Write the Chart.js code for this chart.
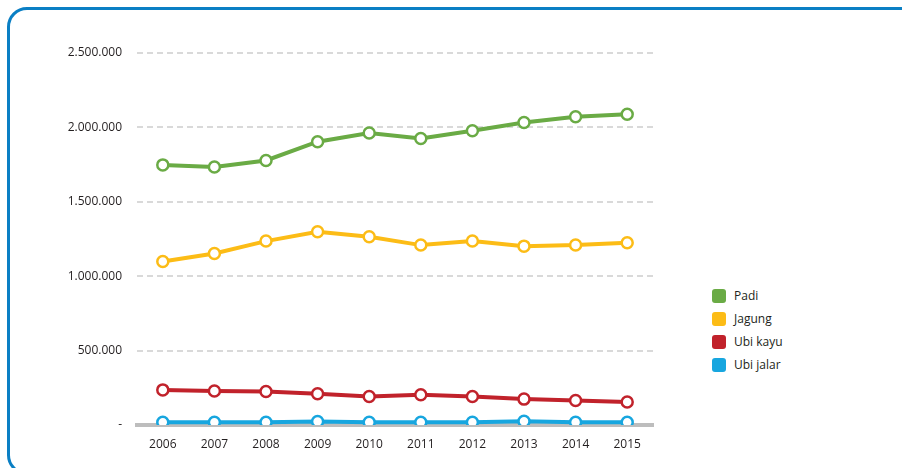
<!DOCTYPE html>
<html>
<head>
<meta charset="utf-8">
<script src="https://cdn.jsdelivr.net/npm/chart.js@4"></script>
<style>
  html, body { margin: 0; padding: 0; background: #fff; overflow: hidden; }
  body { width: 902px; height: 468px; position: relative; font-family: "Open Sans", sans-serif; }
  .frame {
    position: absolute; left: 7px; top: 7px; width: 940px; height: 462px;
    border: 3px solid #0a7fc4; border-radius: 20px; box-sizing: content-box;
  }
  .wrap { position: absolute; left: 0; top: 0; width: 680px; height: 468px; }
  .legend { position: absolute; left: 712px; top: 284px; font-size: 12px; color: #231f20; }
  .legend .row { display: flex; align-items: center; height: 23px; }
  .legend i { width: 14px; height: 14px; border-radius: 3px; margin-right: 8px; display: inline-block; }
</style>
</head>
<body>
<div class="frame"></div>
<div class="wrap"><canvas id="c"></canvas></div>
<div class="legend" id="legend"></div>
<script>
(() => {
  "use strict";

  const YEARS = ["2006", "2007", "2008", "2009", "2010", "2011", "2012", "2013", "2014", "2015"];
  const PADI = [1748000, 1734000, 1778000, 1904000, 1962000, 1925000, 1977000, 2033000, 2071000, 2088000];
  const JAGUNG = [1099000, 1153000, 1236000, 1299000, 1265000, 1209000, 1236000, 1202000, 1209000, 1225000];
  const UBI_KAYU = [236000, 228000, 225000, 210000, 191000, 203000, 191000, 174000, 164000, 154000];
  const UBI_JALAR = [19000, 19000, 19000, 23000, 18000, 19000, 19000, 25000, 19000, 19000];
  const Y_TICKS = [0, 500000, 1000000, 1500000, 2000000, 2500000];

  const SERIES = [
    { label: "Padi", data: PADI, color: "#6aab45" },
    { label: "Jagung", data: JAGUNG, color: "#fcbc16" },
    { label: "Ubi kayu", data: UBI_KAYU, color: "#c1222b" },
    { label: "Ubi jalar", data: UBI_JALAR, color: "#17a6df" },
  ];

  const fmt = (v) => v === 0 ? "-" : String(v).replace(/\B(?=(\d{3})+(?!\d))/g, ".");
  const font = { family: "'Open Sans', sans-serif", size: 12 };

  new Chart(document.getElementById("c"), {
    type: "line",
    data: {
      labels: YEARS,
      datasets: SERIES.map((s) => ({
        label: s.label, data: s.data,
        borderColor: s.color, borderWidth: 4,
        pointRadius: 5.5, pointHoverRadius: 5.5,
        pointBorderWidth: 2.5, pointBackgroundColor: "#fff", pointBorderColor: s.color,
        tension: 0, fill: false,
      })),
    },
    options: {
      responsive: true, maintainAspectRatio: false, animation: false,
      layout: { padding: { left: 0, top: 53, right: 27, bottom: 13 } },
      plugins: { legend: { display: false }, tooltip: { enabled: false } },
      scales: {
        x: {
          offset: true,
          grid: { display: false, drawTicks: false },
          border: { display: true, color: "#bdbdbd", width: 4 },
          ticks: { color: "#231f20", font, padding: 12, maxRotation: 0 },
          afterFit: (s) => { s.height = 30; },
        },
        y: {
          min: 0, max: 2500000,
          afterBuildTicks: (s) => { s.ticks = Y_TICKS.map((v) => ({ value: v })); },
          grid: { color: "#d9d9d9", lineWidth: 2, drawTicks: false },
          border: { display: false, dash: [6, 4] },
          ticks: { color: "#231f20", font, padding: 15, callback: (v) => fmt(v) },
          afterFit: (s) => { s.width = 137; },
        },
      },
    },
  });

  document.getElementById("legend").innerHTML = SERIES.map((s) =>
    `<div class="row"><i style="background:${s.color}"></i><span>${s.label}</span></div>`).join("");
})();
</script>
</body>
</html>
